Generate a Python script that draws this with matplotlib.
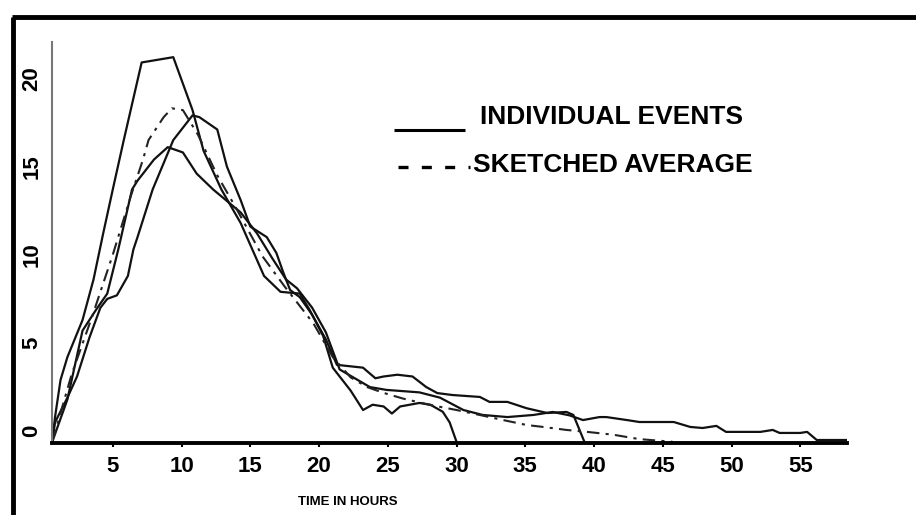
import matplotlib
matplotlib.use("Agg")
import matplotlib.pyplot as plt
from matplotlib.lines import Line2D

plt.rcParams["font.family"] = ["Liberation Sans", "DejaVu Sans"]

# Hydrographs of individual runoff events (time in hours, discharge)
event_a_t = [0.6, 0.8, 1.2, 1.7, 2.8, 3.6, 4.3, 5.0, 5.8, 7.1, 9.4, 10.8, 11.6,
             12.9, 14.3, 16.0, 17.2, 18.6, 19.3, 20.3, 21.0, 22.3, 23.2, 23.9,
             24.7, 25.3, 25.9, 27.3, 28.1, 29.0, 29.5, 30.0]
event_a_q = [-0.6, 0.8, 2.9, 4.2, 6.3, 8.6, 11.2, 13.7, 16.5, 20.9, 21.2, 18.2,
             15.9, 13.7, 11.8, 8.8, 7.9, 7.8, 6.9, 5.4, 3.6, 2.3, 1.2, 1.5,
             1.4, 1.0, 1.4, 1.6, 1.5, 1.1, 0.5, -0.6]

event_b_t = [0.6, 1.7, 2.8, 3.8, 4.6, 5.4, 6.4, 6.8, 8.0, 9.0, 10.1, 11.1, 12.3,
             14.3, 15.5, 16.6, 17.6, 18.4, 19.5, 20.5, 21.5, 23.7, 24.9, 27.3,
             28.8, 30.5, 31.9, 33.7, 35.6, 37.0, 38.2, 39.2, 40.4, 40.9, 42.4,
             43.3, 45.8, 47.0, 47.9, 48.9, 49.6, 52.1, 53.0, 53.5, 55.0, 55.5,
             56.2, 58.4]
event_b_q = [-0.6, 1.8, 5.7, 6.9, 7.8, 10.3, 13.7, 14.2, 15.4, 16.1, 15.8, 14.6,
             13.7, 12.4, 11.2, 9.8, 8.6, 8.1, 7.0, 5.6, 3.5, 2.5, 2.34, 2.2,
             1.9, 1.2, 0.92, 0.8, 0.92, 1.09, 0.9, 0.63, 0.8, 0.8, 0.63, 0.52,
             0.52, 0.24, 0.18, 0.3, -0.04, -0.04, 0.07, -0.1, -0.1, -0.04,
             -0.5, -0.5]

event_c_t = [0.6, 0.8, 1.7, 2.4, 3.3, 4.1, 4.6, 5.3, 6.1, 6.5, 6.8, 7.9, 9.4,
             10.8, 11.3, 12.6, 13.3, 14.3, 15.0, 16.2, 16.9, 17.4, 17.9, 18.6,
             19.5, 20.5, 21.3, 23.2, 24.1, 24.7, 25.7, 26.8, 27.8, 28.6, 29.7,
             31.7, 32.4, 33.7, 35.1, 36.6, 38.0, 38.5, 39.3]
event_c_q = [-0.6, 0.5, 1.9, 3.1, 5.3, 7.0, 7.5, 7.7, 8.8, 10.3, 11.0, 13.7,
             16.5, 17.9, 17.8, 17.1, 15.0, 13.1, 11.6, 11.0, 10.1, 9.0, 8.0,
             7.6, 6.6, 5.2, 3.76, 3.6, 3.0, 3.1, 3.2, 3.1, 2.5, 2.16, 2.05,
             1.94, 1.66, 1.66, 1.3, 1.03, 1.09, 0.92, -0.6]

# Hand-sketched average hydrograph
avg_t = [0.6, 2.0, 3.5, 5.0, 6.3, 7.2, 7.6, 8.7, 9.3, 10.1, 11.2, 12.6, 14.0,
         15.9, 17.5, 19.6, 21.0, 22.3, 23.5, 24.7, 26.1, 28.0, 30.0, 31.8,
         33.4, 35.1, 36.3, 38.0, 39.5, 41.4, 43.3, 45.7]
avg_q = [-0.6, 3.2, 6.5, 10.0, 13.3, 15.4, 16.5, 17.8, 18.3, 18.2, 16.8, 14.5,
         12.6, 9.9, 8.2, 6.1, 4.2, 3.05, 2.5, 2.17, 1.85, 1.5, 1.2, 0.9, 0.63,
         0.35, 0.24, 0.07, -0.04, -0.2, -0.45, -0.6]

x_ticks = [5, 10, 15, 20, 25, 30, 35, 40, 45, 50, 55]
y_ticks = [0, 5, 10, 15, 20]

W, H = 916, 515
fig = plt.figure(figsize=(W / 100, H / 100), dpi=100)
fig.patch.set_facecolor("white")

# outer frame: heavy rules along top and left edges
fig.add_artist(Line2D([12 / W, 1.0], [1 - 17 / H, 1 - 17 / H], color="black", lw=3.5,
                      solid_capstyle="butt"))
fig.add_artist(Line2D([13 / W, 13 / W], [0, 1 - 17 / H], color="black", lw=3.5,
                      solid_capstyle="butt"))

ax = fig.add_axes([52 / W, (H - 443) / H, (847 - 52) / W, (443 - 42) / H])
ax.set_xlim(0.58, 58.4)
ax.set_ylim(-0.67, 22.06)

line_kw = dict(color="#111111", lw=1.6, solid_joinstyle="round")
ax.plot(event_a_t, event_a_q, **line_kw)
ax.plot(event_b_t, event_b_q, **line_kw)
ax.plot(event_c_t, event_c_q, **line_kw)
ax.plot(avg_t, avg_q, color="#222222", lw=1.5, linestyle=(0, (6, 3, 1.5, 3)))

for side in ("top", "right"):
    ax.spines[side].set_visible(False)
ax.spines["left"].set_color("#777777")
ax.spines["left"].set_linewidth(1.5)
ax.spines["bottom"].set_color("black")
ax.spines["bottom"].set_linewidth(2.8)

ax.set_xticks(x_ticks)
ax.set_xticklabels([str(v) for v in x_ticks], fontsize=16, fontweight="heavy")
ax.tick_params(axis="x", length=3, width=1.5, pad=6, direction="out")
ax.set_yticks(y_ticks)
ax.set_yticklabels([str(v) for v in y_ticks], fontsize=16, fontweight="heavy",
                   rotation=90, va="center")
ax.tick_params(axis="y", length=0, pad=7)

fig.text(348 / W, 1 - 502 / H, "TIME IN HOURS", fontsize=9.5, fontweight="heavy",
         ha="center", va="center")

# key
fig.add_artist(Line2D([394 / W, 465 / W], [1 - 130 / H, 1 - 130 / H], color="black",
                      lw=2.2, solid_capstyle="butt"))
fig.text(480 / W, 1 - 117 / H, "INDIVIDUAL EVENTS", fontsize=19, fontweight="heavy",
         ha="left", va="center")
fig.add_artist(Line2D([398 / W, 470 / W], [1 - 167 / H, 1 - 167 / H], color="black",
                      lw=2.4, linestyle=(0, (3, 4))))
fig.text(473 / W, 1 - 165 / H, "SKETCHED AVERAGE", fontsize=19, fontweight="heavy",
         ha="left", va="center")

fig.savefig("out.png", dpi=100, facecolor="white")
